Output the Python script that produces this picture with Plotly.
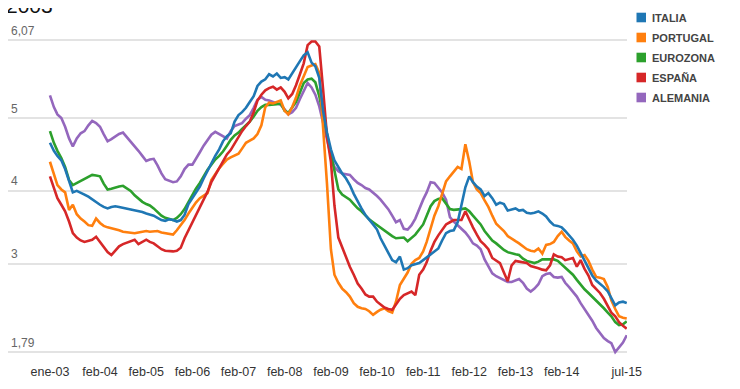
import pandas as pd
import plotly.graph_objects as go

# ---------------- data ----------------
months = pd.date_range("2003-01-01", "2015-07-01", freq="MS")

series_names = ["ITALIA", "PORTUGAL", "EUROZONA", "ESPAÑA", "ALEMANIA"]

italia = [
    4.66, 4.55, 4.48, 4.42, 4.30, 4.12, 3.98, 4.00, 3.98, 3.95,
    3.92, 3.88, 3.85, 3.81, 3.78, 3.76, 3.78, 3.79, 3.78, 3.77,
    3.76, 3.75, 3.73, 3.72, 3.71, 3.69, 3.68, 3.66, 3.63, 3.60,
    3.59, 3.61, 3.60, 3.58, 3.60, 3.67, 3.82, 3.90, 3.98, 4.06,
    4.17, 4.28, 4.38, 4.48, 4.57, 4.68, 4.75, 4.79, 4.95, 5.04,
    5.08, 5.14, 5.22, 5.30, 5.44, 5.50, 5.53, 5.60, 5.57, 5.61,
    5.55, 5.56, 5.53, 5.62, 5.70, 5.78, 5.86, 5.90, 5.76, 5.71,
    5.55, 5.10, 4.80, 4.57, 4.42, 4.32, 4.24, 4.17, 4.08, 3.96,
    3.85, 3.76, 3.67, 3.61, 3.54, 3.47, 3.35, 3.25, 3.14, 3.05,
    3.02, 3.10, 2.92, 2.94, 2.98, 3.00, 3.01, 3.05, 3.09, 3.13,
    3.17, 3.21, 3.32, 3.42, 3.45, 3.46, 3.57, 3.80, 4.05, 4.20,
    4.12, 4.06, 4.02, 3.93, 3.97, 3.90, 3.81, 3.84, 3.82, 3.73,
    3.75, 3.76, 3.73, 3.74, 3.70, 3.69, 3.70, 3.72, 3.69, 3.65,
    3.58, 3.53, 3.52, 3.50, 3.45, 3.39, 3.33, 3.25, 3.15, 3.05,
    2.95, 2.84, 2.77, 2.73, 2.68, 2.62, 2.53, 2.43, 2.47, 2.48,
    2.46,
]

portugal = [
    4.40, 4.22, 4.08, 4.02, 3.98, 3.74, 3.81, 3.68, 3.62, 3.58,
    3.53, 3.52, 3.62, 3.56, 3.52, 3.50, 3.49, 3.47, 3.46, 3.44,
    3.43, 3.43, 3.42, 3.43, 3.44, 3.45, 3.44, 3.44, 3.45, 3.43,
    3.42, 3.40, 3.40, 3.46, 3.53, 3.60, 3.69, 3.77, 3.84, 3.90,
    3.94, 3.97, 4.15, 4.24, 4.31, 4.37, 4.43, 4.46, 4.49, 4.51,
    4.58, 4.66, 4.69, 4.72, 4.78, 4.90, 5.15, 5.21, 5.20, 5.22,
    5.24, 5.10, 5.05, 5.15, 5.28, 5.45, 5.58, 5.70, 5.72, 5.74,
    5.62, 4.90, 4.10, 3.20, 2.85, 2.74, 2.66, 2.61, 2.55, 2.46,
    2.41, 2.39, 2.38, 2.35, 2.30, 2.34, 2.37, 2.39, 2.35, 2.33,
    2.48, 2.71, 2.79, 2.88, 3.00, 3.05, 3.08, 3.17, 3.30, 3.48,
    3.66, 3.79, 3.95, 4.13, 4.20, 4.26, 4.33, 4.30, 4.64, 4.40,
    4.12, 4.02, 3.97, 3.87, 3.78, 3.66, 3.55, 3.50, 3.45, 3.38,
    3.34, 3.31, 3.28, 3.24, 3.20, 3.18, 3.17, 3.21, 3.14, 3.26,
    3.27, 3.30, 3.38, 3.44, 3.37, 3.32, 3.28, 3.17, 3.10, 3.12,
    3.04, 2.92, 2.82, 2.81, 2.79, 2.68, 2.50, 2.38, 2.28, 2.26,
    2.25,
]

eurozona = [
    4.82, 4.66, 4.55, 4.45, 4.33, 4.15, 4.08, 4.11, 4.14, 4.16,
    4.19, 4.22, 4.21, 4.20, 4.10, 4.02, 4.03, 4.05, 4.06, 4.07,
    4.04, 4.00, 3.94, 3.89, 3.85, 3.82, 3.80, 3.76, 3.71, 3.66,
    3.63, 3.62, 3.60, 3.63, 3.68, 3.75, 3.85, 3.94, 4.03, 4.11,
    4.20, 4.29, 4.36, 4.43, 4.48, 4.54, 4.62, 4.70, 4.76, 4.80,
    4.85, 4.90, 4.95, 5.02, 5.10, 5.15, 5.18, 5.18, 5.18, 5.19,
    5.20, 5.10, 5.07, 5.14, 5.22, 5.35, 5.48, 5.53, 5.54, 5.49,
    5.30, 5.05, 4.75, 4.50, 4.28, 4.02, 3.95, 3.91, 3.88, 3.82,
    3.76, 3.72, 3.66, 3.61, 3.57, 3.53, 3.49, 3.45, 3.42, 3.38,
    3.35, 3.36, 3.36, 3.31, 3.35, 3.40, 3.47, 3.54, 3.66, 3.79,
    3.86, 3.89, 3.90, 3.82, 3.75, 3.74, 3.74, 3.75, 3.76, 3.72,
    3.66, 3.60, 3.54, 3.45, 3.38, 3.32, 3.28, 3.23, 3.19, 3.16,
    3.14, 3.13, 3.12, 3.07, 3.04, 3.02, 3.01, 3.03, 3.06, 3.06,
    3.06, 3.06, 3.04, 2.99, 2.95, 2.90, 2.85, 2.78, 2.71, 2.65,
    2.60, 2.55, 2.50, 2.44, 2.39, 2.33, 2.28, 2.20, 2.16, 2.17,
    2.21,
]

espana = [
    4.20, 4.05, 3.90, 3.81, 3.72, 3.58, 3.42, 3.36, 3.32, 3.30,
    3.32, 3.33, 3.37, 3.30, 3.22, 3.16, 3.12, 3.18, 3.24, 3.27,
    3.29, 3.31, 3.33, 3.27, 3.30, 3.33, 3.30, 3.28, 3.24, 3.20,
    3.18, 3.17, 3.17, 3.18, 3.22, 3.35, 3.46, 3.55, 3.66, 3.77,
    3.88, 3.99, 4.12, 4.22, 4.32, 4.42, 4.50, 4.56, 4.65, 4.75,
    4.82, 4.89, 4.95, 5.08, 5.24, 5.32, 5.38, 5.41, 5.43, 5.39,
    5.42, 5.36, 5.27, 5.33, 5.45, 5.60, 5.75, 6.00, 6.05, 6.05,
    5.98, 5.40, 4.75, 4.40, 3.80, 3.36, 3.22, 3.08, 2.96, 2.85,
    2.73, 2.66, 2.58, 2.55, 2.55, 2.48, 2.44, 2.40, 2.38, 2.37,
    2.44, 2.52, 2.57, 2.60, 2.62, 2.57, 2.85, 2.92, 3.02, 3.18,
    3.30, 3.39, 3.46, 3.54, 3.57, 3.60, 3.60, 3.60, 3.72, 3.60,
    3.50, 3.40, 3.31, 3.26, 3.20, 3.08, 3.05, 3.01, 2.88, 2.76,
    2.98, 3.04, 3.03, 3.02, 3.01, 2.97, 2.96, 2.94, 2.92, 2.91,
    2.98, 3.13, 3.10, 3.09, 3.05, 3.07, 3.08, 2.96, 3.05, 2.93,
    2.84, 2.71, 2.66, 2.60, 2.52, 2.43, 2.33, 2.28, 2.20, 2.15,
    2.11,
]

alemania = [
    5.31, 5.15, 5.05, 5.00, 4.88, 4.72, 4.61, 4.72, 4.79, 4.82,
    4.90, 4.96, 4.93, 4.88, 4.78, 4.68, 4.71, 4.75, 4.78, 4.80,
    4.74, 4.68, 4.61, 4.55, 4.48, 4.41, 4.43, 4.44, 4.35, 4.24,
    4.16, 4.14, 4.12, 4.13, 4.20, 4.30, 4.36, 4.36, 4.45, 4.53,
    4.62, 4.70, 4.77, 4.81, 4.78, 4.75, 4.72, 4.82, 4.89, 4.91,
    4.93, 4.99, 5.04, 5.14, 5.25, 5.29, 5.25, 5.24, 5.22, 5.21,
    5.18, 5.12, 5.05, 5.08, 5.14, 5.26, 5.38, 5.48, 5.42, 5.32,
    5.16, 4.95, 4.70, 4.48, 4.33, 4.27, 4.24, 4.23, 4.22, 4.16,
    4.11, 4.08, 4.04, 4.02, 3.98, 3.93, 3.88, 3.82, 3.75, 3.66,
    3.57, 3.60, 3.48, 3.47, 3.53, 3.62, 3.76, 3.88, 3.98, 4.12,
    4.11, 4.05, 3.98, 3.88, 3.64, 3.58, 3.53, 3.49, 3.43, 3.36,
    3.28, 3.25, 3.20, 3.06, 2.96, 2.87, 2.83, 2.80, 2.77, 2.75,
    2.75, 2.77, 2.79, 2.74, 2.66, 2.62, 2.66, 2.72, 2.83, 2.86,
    2.87, 2.82, 2.81, 2.82, 2.74, 2.68, 2.61, 2.55, 2.46, 2.38,
    2.30, 2.22, 2.12, 2.05, 1.98, 1.94, 1.91, 1.79, 1.85, 1.92,
    2.02,
]

x_tick_dates = ["2003-01-01", "2004-02-01", "2005-02-01", "2006-02-01",
                "2007-02-01", "2008-02-01", "2009-02-01", "2010-02-01",
                "2011-02-01", "2012-02-01", "2013-02-01", "2014-02-01",
                "2015-07-01"]
x_tick_labels = ["ene-03", "feb-04", "feb-05", "feb-06", "feb-07", "feb-08",
                 "feb-09", "feb-10", "feb-11", "feb-12", "feb-13", "feb-14",
                 "jul-15"]
y_tick_values = [1.79, 3, 4, 5, 6.07]
y_tick_labels = ["1,79", "3", "4", "5", "6,07"]

title_text = "2003"

# ---------------- styling ----------------
colors = ["#1f77b4", "#ff7f0e", "#2ca02c", "#d62728", "#9467bd"]
all_series = [italia, portugal, eurozona, espana, alemania]
for s in all_series:
    assert len(s) == len(months)

W, H = 740, 389
OFF = 8  # page body margin: screen px = figure px + 8
# plot area in screen pixels: x 8..627, y 36..359
ML = 8 - OFF
MT = 36 - OFF
MR = W - (627 - OFF)
MB = H - (359 - OFF)
PW = W - ML - MR
PH = H - MT - MB


def fx(sx):
    """screen x pixel -> paper coordinate"""
    return (sx - OFF - ML) / PW


def fy(sy):
    """screen y pixel -> paper coordinate"""
    return (H - MB - (sy - OFF)) / PH


fig = go.Figure()
draw_order = [4, 2, 1, 3, 0]
for i in draw_order:
    fig.add_trace(go.Scatter(
        x=months, y=all_series[i], name=series_names[i], mode="lines",
        line=dict(color=colors[i], width=2.6), hoverinfo="x+y+name",
    ))

annotations = []
shapes = []
# y tick labels above grid lines
for v, t in zip(y_tick_values, y_tick_labels):
    annotations.append(dict(
        x=fx(9), xref="paper", xanchor="left", y=v, yref="y",
        yanchor="middle", yshift=9.5, text=t, showarrow=False,
        font=dict(size=12, color="#666666"),
    ))

# legend (squares + labels)
for i, name in enumerate(series_names):
    cy = 17.5 + 20 * i
    shapes.append(dict(
        type="rect", xref="paper", yref="paper",
        x0=fx(636.5), x1=fx(646), y0=fy(cy + 4.8), y1=fy(cy - 4.8),
        fillcolor=colors[i], line=dict(width=0),
    ))
    annotations.append(dict(
        x=fx(650), xref="paper", xanchor="left", y=fy(cy), yref="paper",
        yanchor="middle", text=name, showarrow=False,
        font=dict(size=11, color="#444444", weight="bold"),
    ))

# title (cut at the top in the original)
annotations.append(dict(
    x=fx(4), xref="paper", xanchor="left", y=fy(19), yref="paper",
    yanchor="bottom", text=title_text, showarrow=False,
    font=dict(size=21, color="#111111"),
))

fig.update_layout(
    width=W, height=H,
    margin=dict(l=ML, r=MR, t=MT, b=MB, pad=0),
    paper_bgcolor="white", plot_bgcolor="white",
    font=dict(family="Liberation Sans, Arial, sans-serif"),
    showlegend=False,
    annotations=annotations, shapes=shapes,
    xaxis=dict(
        type="date", range=["2002-02-03", "2015-07-03"],
        tickvals=x_tick_dates, ticktext=x_tick_labels,
        showgrid=False, zeroline=False, showline=False, ticks="",
        tickfont=dict(size=12.5, color="#333333"),
        ticklabelstandoff=3,
    ),
    yaxis=dict(
        range=[1.694, 6.125], tickvals=y_tick_values,
        showticklabels=False, showgrid=True, gridcolor="#e3e3e3",
        gridwidth=1.5, zeroline=False, showline=False, ticks="",
    ),
)

fig.write_html("out.html")
